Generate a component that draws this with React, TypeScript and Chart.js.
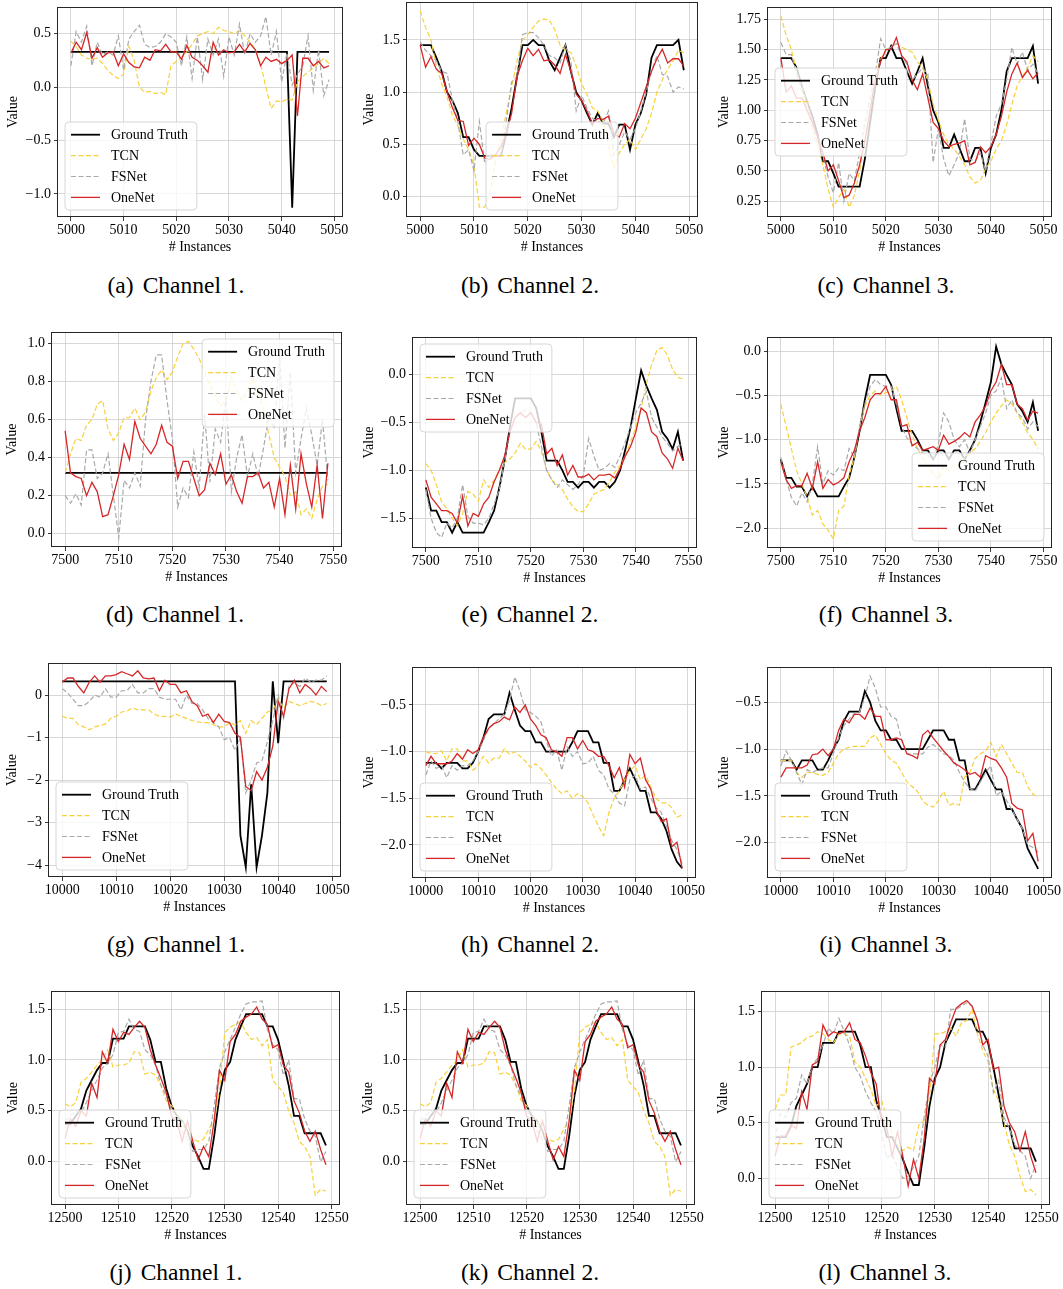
import React, { useEffect, useRef } from "react";
import { Chart, registerables } from "chart.js";

Chart.register(...registerables);

const FONT = "'Liberation Serif', 'Times New Roman', Times, serif";
Chart.defaults.font.family = FONT;
Chart.defaults.font.size = 14;
Chart.defaults.color = "#000";

// ---------------- data ----------------
const seriesNames = ["Ground Truth", "TCN", "FSNet", "OneNet"];
const captionLabels = ["(a)", "(b)", "(c)", "(d)", "(e)", "(f)", "(g)", "(h)", "(i)", "(j)", "(k)", "(l)"];
const channelNames = ["Channel 1.", "Channel 2.", "Channel 3."];

const START1 = 5000;
const START2 = 7500;
const START3 = 10000;
const START4 = 12500;

const xTicks1 = [5000, 5010, 5020, 5030, 5040, 5050];
const xTicks2 = [7500, 7510, 7520, 7530, 7540, 7550];
const xTicks3 = [10000, 10010, 10020, 10030, 10040, 10050];
const xTicks4 = [12500, 12510, 12520, 12530, 12540, 12550];

const yTicksA = [-1.0, -0.5, 0.0, 0.5];
const yTicksB = [0.0, 0.5, 1.0, 1.5];
const yTicksC = [0.25, 0.5, 0.75, 1.0, 1.25, 1.5, 1.75];
const yTicksD = [0.0, 0.2, 0.4, 0.6, 0.8, 1.0];
const yTicksE = [-1.5, -1.0, -0.5, 0.0];
const yTicksF = [-2.0, -1.5, -1.0, -0.5, 0.0];
const yTicksG = [-4, -3, -2, -1, 0];
const yTicksH = [-2.0, -1.5, -1.0, -0.5];
const yTicksI = [-2.0, -1.5, -1.0, -0.5];
const yTicksJ = [0.0, 0.5, 1.0, 1.5];
const yTicksL = [0.0, 0.5, 1.0, 1.5];

// (a)
const gtA = [
  0.33, 0.33, 0.33, 0.33, 0.33, 0.33, 0.33, 0.33, 0.33, 0.33,
  0.33, 0.33, 0.33, 0.33, 0.33, 0.33, 0.33, 0.33, 0.33, 0.33,
  0.33, 0.33, 0.33, 0.33, 0.33, 0.33, 0.33, 0.33, 0.33, 0.33,
  0.33, 0.33, 0.33, 0.33, 0.33, 0.33, 0.33, 0.33, 0.33, 0.33,
  0.33, 0.33, -1.13, 0.33, 0.33, 0.33, 0.33, 0.33, 0.33, 0.33,
];
const tcnA = [
  0.43, 0.38, 0.30, 0.27, 0.26, 0.27, 0.22, 0.16, 0.11, 0.08,
  0.12, 0.38, 0.25, 0.00, -0.05, -0.04, -0.06, -0.05, -0.07, 0.20,
  0.24, 0.28, 0.33, 0.40, 0.48, 0.50, 0.52, 0.50, 0.56, 0.53,
  0.52, 0.50, 0.53, 0.48, 0.42, 0.35, 0.22, 0.00, -0.20, -0.13,
  -0.14, -0.11, -0.12, 0.05, 0.10, 0.14, 0.18, 0.22, 0.27, 0.22,
];
const fsA = [
  0.20, 0.52, 0.42, 0.57, 0.20, 0.42, 0.30, 0.33, 0.30, 0.48,
  0.16, 0.45, 0.52, 0.58, 0.40, 0.37, 0.38, 0.42, 0.50, 0.47,
  0.42, 0.20, 0.47, 0.08, 0.47, 0.07, 0.45, 0.30, 0.45, 0.10,
  0.47, 0.30, 0.59, 0.30, 0.50, 0.42, 0.48, 0.66, 0.30, 0.52,
  0.05, 0.32, 0.02, 0.12, 0.20, 0.48, -0.03, 0.35, -0.08, 0.07,
];
const oneA = [
  0.32, 0.42, 0.35, 0.51, 0.27, 0.37, 0.28, 0.32, 0.33, 0.20,
  0.31, 0.23, 0.19, 0.18, 0.28, 0.25, 0.35, 0.34, 0.40, 0.33,
  0.33, 0.26, 0.39, 0.28, 0.25, 0.20, 0.14, 0.42, 0.30, 0.35,
  0.32, 0.33, 0.40, 0.33, 0.41, 0.35, 0.20, 0.28, 0.24, 0.26,
  0.22, 0.25, 0.30, -0.27, 0.27, 0.27, 0.20, 0.24, 0.18, 0.20,
];

// (b)
const gtB = [
  1.45, 1.45, 1.45, 1.33, 1.20, 1.00, 0.92, 0.80, 0.57, 0.57,
  0.45, 0.39, 0.39, 0.39, 0.39, 0.39, 0.60, 0.85, 1.15, 1.45,
  1.45, 1.50, 1.45, 1.45, 1.30, 1.21, 1.33, 1.45, 1.20, 1.00,
  0.92, 0.80, 0.69, 0.80, 0.70, 0.70, 0.57, 0.69, 0.69, 0.45,
  0.69, 0.80, 0.98, 1.33, 1.45, 1.45, 1.45, 1.45, 1.50, 1.21,
];
const tcnB = [
  1.78, 1.62, 1.50, 1.25, 1.08, 0.95, 0.78, 0.68, 0.55, 0.45,
  0.30, -0.10, -0.10, 0.05, 0.35, 0.55, 0.80, 1.05, 1.30, 1.50,
  1.55, 1.62, 1.68, 1.70, 1.69, 1.60, 1.45, 1.40, 1.38, 1.25,
  1.08, 0.98, 0.85, 0.82, 0.72, 0.50, 0.27, 0.42, 0.50, 0.55,
  0.45, 0.55, 0.65, 0.80, 1.00, 1.12, 1.22, 1.30, 1.40, 1.38,
];
const fsB = [
  1.48, 1.40, 1.35, 1.30, 1.20, 1.18, 0.92, 0.72, 0.40, 0.45,
  0.25, 0.72, 0.32, 0.40, 0.40, 0.40, 0.72, 1.10, 1.15, 1.55,
  1.57, 1.57, 1.52, 1.45, 1.35, 1.33, 1.28, 1.45, 1.30, 0.82,
  0.97, 0.85, 0.75, 0.72, 0.70, 0.82, 0.40, 0.50, 0.62, 0.55,
  0.65, 0.82, 1.00, 1.20, 1.35, 1.17, 1.15, 1.00, 1.05, 1.03,
];
const oneB = [
  1.45, 1.24, 1.34, 1.22, 1.18, 1.00, 0.85, 0.73, 0.72, 0.49,
  0.56, 0.50, 0.37, 0.36, 0.40, 0.48, 0.60, 0.80, 1.15, 1.30,
  1.42, 1.35, 1.41, 1.30, 1.31, 1.26, 1.18, 1.36, 1.20, 0.98,
  0.92, 0.82, 0.70, 0.75, 0.74, 0.77, 0.60, 0.57, 0.70, 0.65,
  0.75, 0.90, 1.05, 1.20, 1.32, 1.41, 1.28, 1.32, 1.32, 1.25,
];

// (c)
const gtC = [
  1.43, 1.43, 1.43, 1.35, 1.20, 1.07, 0.95, 0.80, 0.58, 0.58,
  0.48, 0.37, 0.37, 0.37, 0.37, 0.37, 0.60, 0.90, 1.20, 1.43,
  1.43, 1.53, 1.43, 1.43, 1.32, 1.22, 1.32, 1.43, 1.20, 1.00,
  0.90, 0.69, 0.69, 0.80, 0.69, 0.58, 0.58, 0.69, 0.69, 0.48,
  0.69, 0.80, 1.00, 1.32, 1.43, 1.43, 1.43, 1.43, 1.53, 1.22,
];
const tcnC = [
  1.78, 1.62, 1.50, 1.32, 1.15, 1.00, 0.85, 0.70, 0.55, 0.35,
  0.20, 0.28, 0.35, 0.20, 0.30, 0.50, 0.75, 1.00, 1.25, 1.42,
  1.50, 1.52, 1.55, 1.52, 1.50, 1.48, 1.40, 1.35, 1.25, 1.05,
  0.92, 0.80, 0.72, 0.68, 0.62, 0.55, 0.45, 0.40, 0.42, 0.52,
  0.58, 0.68, 0.75, 0.88, 1.05, 1.20, 1.28, 1.35, 1.45, 1.40,
];
const fsC = [
  1.56, 1.46, 1.46, 1.30, 1.20, 1.05, 0.92, 0.75, 0.62, 0.45,
  0.32, 0.57, 0.25, 0.48, 0.42, 0.65, 0.90, 1.10, 1.30, 1.59,
  1.50, 1.52, 1.55, 1.45, 1.38, 1.25, 1.30, 1.35, 1.30, 0.57,
  0.85, 0.60, 0.46, 0.55, 0.65, 0.93, 0.60, 0.58, 0.65, 0.50,
  0.72, 0.95, 1.05, 1.25, 1.52, 1.38, 1.48, 1.33, 1.38, 1.30,
];
const oneC = [
  1.43, 1.15, 1.20, 1.10, 1.10, 1.00, 0.90, 0.78, 0.65, 0.50,
  0.55, 0.42, 0.28, 0.30, 0.40, 0.55, 0.75, 1.00, 1.25, 1.40,
  1.50, 1.50, 1.60, 1.45, 1.40, 1.25, 1.17, 1.30, 1.10, 0.90,
  0.85, 0.75, 0.70, 0.72, 0.73, 0.75, 0.55, 0.57, 0.70, 0.65,
  0.70, 0.80, 0.95, 1.15, 1.30, 1.39, 1.27, 1.33, 1.26, 1.31,
];

// (d)
const gtD = [
  0.32, 0.32, 0.32, 0.32, 0.32, 0.32, 0.32, 0.32, 0.32, 0.32,
  0.32, 0.32, 0.32, 0.32, 0.32, 0.32, 0.32, 0.32, 0.32, 0.32,
  0.32, 0.32, 0.32, 0.32, 0.32, 0.32, 0.32, 0.32, 0.32, 0.32,
  0.32, 0.32, 0.32, 0.32, 0.32, 0.32, 0.32, 0.32, 0.32, 0.32,
  0.32, 0.32, 0.32, 0.32, 0.32, 0.32, 0.32, 0.32, 0.32, 0.32,
];
const tcnD = [
  0.32, 0.42, 0.50, 0.49, 0.57, 0.60, 0.68, 0.70, 0.55, 0.49,
  0.53, 0.61, 0.61, 0.66, 0.60, 0.64, 0.75, 0.82, 0.86, 0.81,
  0.85, 0.93, 1.00, 1.01, 0.97, 0.92, 0.85, 0.78, 0.72, 0.67,
  0.70, 0.82, 0.75, 0.70, 0.75, 0.82, 0.75, 0.65, 0.52, 0.40,
  0.35, 0.30, 0.20, 0.22, 0.10, 0.13, 0.08, 0.18, 0.25, 0.26,
];
const fsD = [
  0.20, 0.16, 0.21, 0.15, 0.44, 0.44, 0.29, 0.32, 0.42, 0.20,
  -0.02, 0.28, 0.24, 0.32, 0.25, 0.60, 0.80, 0.94, 0.94, 0.70,
  0.50, 0.14, 0.24, 0.19, 0.43, 0.24, 0.63, 0.27, 0.55, 0.48,
  0.72, 0.22, 0.40, 0.52, 0.30, 0.42, 0.30, 0.45, 0.62, 0.55,
  0.93, 0.45, 0.85, 0.32, 0.50, 0.66, 0.52, 0.36, 0.60, 0.28,
];
const oneD = [
  0.54, 0.32, 0.30, 0.29, 0.20, 0.27, 0.22, 0.09, 0.10, 0.20,
  0.31, 0.47, 0.39, 0.59, 0.50, 0.46, 0.42, 0.47, 0.57, 0.48,
  0.46, 0.29, 0.38, 0.38, 0.29, 0.20, 0.23, 0.37, 0.31, 0.42,
  0.26, 0.31, 0.22, 0.16, 0.30, 0.30, 0.32, 0.24, 0.27, 0.14,
  0.29, 0.10, 0.36, 0.13, 0.42, 0.26, 0.14, 0.36, 0.08, 0.37,
];

// (e)
const gtE = [
  -1.18, -1.42, -1.42, -1.54, -1.54, -1.65, -1.54, -1.65, -1.65, -1.65,
  -1.65, -1.65, -1.54, -1.42, -1.18, -0.90, -0.55, -0.25, -0.25, -0.25,
  -0.25, -0.35, -0.60, -0.90, -0.90, -0.90, -1.00, -1.12, -1.12, -1.18,
  -1.12, -1.12, -1.18, -1.12, -1.12, -1.18, -1.12, -1.00, -0.78, -0.55,
  -0.25, 0.04, -0.12, -0.25, -0.37, -0.60, -0.67, -0.78, -0.60, -0.90,
];
const tcnE = [
  -0.93, -1.00, -1.15, -1.33, -1.40, -1.50, -1.58, -1.45, -1.22, -1.25,
  -1.32, -1.10, -1.18, -1.10, -1.00, -0.92, -0.88, -0.82, -0.72, -0.78,
  -0.78, -0.70, -0.80, -1.00, -1.10, -1.15, -1.20, -1.30, -1.38, -1.43,
  -1.43, -1.35, -1.25, -1.22, -1.20, -1.12, -1.02, -0.95, -0.85, -0.70,
  -0.55, -0.35, -0.10, 0.10, 0.25, 0.28, 0.20, 0.05, -0.03, -0.05,
];
const fsE = [
  -1.20, -1.50, -1.65, -1.70, -1.55, -1.60, -1.50, -1.15, -1.48, -1.55,
  -1.55, -1.57, -1.50, -1.35, -1.20, -0.90, -0.60, -0.45, -0.40, -0.37,
  -0.40, -0.50, -0.75, -1.00, -1.10, -1.18, -1.10, -1.15, -1.20, -1.15,
  -1.05, -0.67, -0.85, -1.00, -0.98, -0.93, -0.97, -0.85, -0.70, -0.55,
  -0.40, -0.30, -0.18, -0.45, -0.55, -0.65, -0.72, -0.80, -0.75, -0.72,
];
const oneE = [
  -1.10, -1.28, -1.35, -1.42, -1.42, -1.45, -1.55, -1.27, -1.58, -1.45,
  -1.48, -1.35, -1.28, -1.12, -1.00, -0.85, -0.60, -0.45, -0.40, -0.45,
  -0.40, -0.50, -0.52, -0.83, -0.77, -0.95, -0.84, -1.05, -0.95, -1.07,
  -1.07, -1.04, -1.10, -1.05, -1.05, -1.04, -1.08, -0.98, -0.85, -0.75,
  -0.60, -0.35, -0.40, -0.60, -0.65, -0.82, -0.88, -0.98, -0.77, -0.90,
];

// (f)
const gtF = [
  -1.22, -1.43, -1.43, -1.53, -1.53, -1.64, -1.53, -1.64, -1.64, -1.64,
  -1.64, -1.64, -1.53, -1.43, -1.20, -0.90, -0.55, -0.27, -0.27, -0.27,
  -0.27, -0.38, -0.65, -0.90, -0.90, -0.90, -1.00, -1.12, -1.12, -1.22,
  -1.12, -1.12, -1.22, -1.12, -1.12, -1.22, -1.12, -1.00, -0.80, -0.58,
  -0.35, 0.05, -0.15, -0.27, -0.38, -0.60, -0.68, -0.80, -0.58, -0.90,
];
const tcnF = [
  -0.60, -0.85, -1.10, -1.35, -1.50, -1.65, -1.85, -1.80, -1.95, -2.02,
  -2.12, -1.80, -1.75, -1.40, -1.20, -0.85, -0.62, -0.50, -0.45, -0.50,
  -0.47, -0.45, -0.40, -0.55, -0.75, -0.95, -1.10, -1.20, -1.30, -1.38,
  -1.45, -1.30, -1.35, -1.28, -1.30, -1.20, -1.15, -1.10, -1.02, -0.92,
  -0.80, -0.70, -0.62, -0.55, -0.60, -0.70, -0.80, -0.92, -1.00, -1.10,
];
const fsF = [
  -1.20, -1.45, -1.65, -1.75, -1.60, -1.70, -1.50, -1.08, -1.50, -1.35,
  -1.40, -1.32, -1.35, -1.10, -1.20, -0.85, -0.60, -0.40, -0.32, -0.38,
  -0.40, -0.40, -0.60, -0.85, -0.98, -1.05, -1.10, -1.15, -1.18, -1.22,
  -1.05, -0.70, -0.80, -1.00, -1.08, -1.00, -1.15, -1.00, -0.85, -0.70,
  -0.50, -0.45, -0.30, -0.65, -0.55, -0.70, -0.75, -0.88, -0.80, -0.85,
];
const oneF = [
  -1.25, -1.45, -1.55, -1.52, -1.52, -1.38, -1.55, -1.25, -1.55, -1.45,
  -1.51, -1.48, -1.43, -1.25, -1.12, -0.90, -0.75, -0.55, -0.48, -0.48,
  -0.40, -0.55, -0.55, -0.85, -0.83, -1.07, -1.03, -1.12, -1.10, -1.08,
  -1.12, -0.95, -1.05, -1.02, -0.98, -0.92, -0.97, -0.80, -0.72, -0.62,
  -0.45, -0.35, -0.15, -0.38, -0.38, -0.60, -0.65, -0.78, -0.68, -0.70,
];

// (g)
const gtG = [
  0.32, 0.32, 0.32, 0.32, 0.32, 0.32, 0.32, 0.32, 0.32, 0.32,
  0.32, 0.32, 0.32, 0.32, 0.32, 0.32, 0.32, 0.32, 0.32, 0.32,
  0.32, 0.32, 0.32, 0.32, 0.32, 0.32, 0.32, 0.32, 0.32, 0.32,
  0.32, 0.32, 0.32, -3.30, -4.05, -2.10, -4.05, -3.30, -2.30, 0.32,
  -1.13, 0.32, 0.32, 0.32, 0.32, 0.32, 0.32, 0.32, 0.32, 0.32,
];
const tcnG = [
  -0.50, -0.55, -0.55, -0.70, -0.75, -0.82, -0.75, -0.72, -0.68, -0.55,
  -0.50, -0.40, -0.38, -0.30, -0.35, -0.35, -0.35, -0.45, -0.50, -0.50,
  -0.52, -0.45, -0.50, -0.55, -0.60, -0.63, -0.65, -0.65, -0.70, -0.75,
  -0.75, -0.65, -0.70, -0.60, -0.90, -0.60, -0.70, -0.55, -0.40, -0.35,
  -0.10, -0.30, -0.15, -0.20, -0.25, -0.20, -0.15, -0.18, -0.25, -0.20,
];
const fsG = [
  0.15, 0.05, -0.10, -0.25, -0.25, -0.15, 0.00, -0.05, 0.15, -0.05,
  -0.05, 0.10, 0.10, 0.25, 0.05, 0.05, 0.15, 0.15, -0.05, -0.10,
  -0.10, -0.10, -0.35, 0.00, -0.20, -0.20, -0.35, -0.55, -0.65, -0.75,
  -1.05, -1.00, -1.30, -1.00, -2.30, -2.00, -1.60, -1.55, -1.10, -0.60,
  0.00, -0.55, 0.20, 0.30, 0.20, 0.40, 0.30, 0.35, 0.35, 0.45,
];
const oneG = [
  0.30, 0.40, 0.40, 0.20, 0.05, 0.30, 0.45, 0.30, 0.45, 0.45,
  0.48, 0.55, 0.50, 0.45, 0.57, 0.40, 0.38, 0.40, 0.10, 0.35,
  0.25, 0.25, 0.05, 0.10, -0.15, -0.25, -0.50, -0.45, -0.65, -0.45,
  -0.62, -0.65, -0.90, -1.00, -2.15, -2.25, -1.80, -2.00, -1.70, -1.20,
  -0.15, -0.50, 0.15, 0.35, 0.05, 0.25, 0.15, 0.00, 0.20, 0.08,
];

// (h)
const gtH = [
  -1.12, -1.12, -1.12, -1.18, -1.12, -1.12, -1.12, -1.18, -1.18, -1.12,
  -1.00, -0.85, -0.65, -0.60, -0.60, -0.60, -0.37, -0.55, -0.72, -0.78,
  -0.78, -0.90, -0.90, -1.00, -1.00, -1.00, -1.00, -1.00, -0.90, -0.78,
  -0.78, -0.78, -0.90, -0.90, -1.12, -1.12, -1.42, -1.42, -1.30, -1.18,
  -1.30, -1.42, -1.42, -1.65, -1.65, -1.72, -1.85, -2.05, -2.18, -2.25,
];
const tcnH = [
  -1.00, -1.02, -1.02, -0.99, -1.10, -0.97, -0.97, -1.10, -1.10, -1.20,
  -1.15, -1.05, -1.12, -1.07, -1.07, -0.97, -1.03, -1.00, -1.05, -1.10,
  -1.17, -1.13, -1.18, -1.25, -1.33, -1.40, -1.45, -1.42, -1.50, -1.45,
  -1.48, -1.55, -1.68, -1.80, -1.90, -1.65, -1.50, -1.42, -1.30, -1.20,
  -1.15, -1.30, -1.25, -1.38, -1.50, -1.55, -1.55, -1.60, -1.70, -1.68,
];
const fsH = [
  -1.25, -1.10, -1.18, -1.15, -1.28, -1.15, -1.20, -1.15, -1.15, -1.10,
  -1.00, -0.88, -0.75, -0.70, -0.65, -0.60, -0.45, -0.20, -0.35, -0.55,
  -0.58, -0.62, -0.68, -0.88, -1.05, -0.98, -1.20, -0.95, -1.05, -1.00,
  -1.13, -1.12, -1.05, -1.20, -1.25, -1.40, -1.45, -1.55, -1.58, -1.30,
  -1.25, -1.40, -1.38, -1.50, -1.60, -1.65, -1.80, -1.95, -2.05, -2.20,
];
const oneH = [
  -1.15, -1.05, -1.13, -1.13, -1.13, -1.10, -1.02, -1.08, -0.98, -1.02,
  -0.98, -0.85, -0.75, -0.70, -0.68, -0.63, -0.66, -0.52, -0.58, -0.50,
  -0.65, -0.72, -0.82, -0.85, -0.98, -1.00, -1.05, -0.85, -0.85, -0.97,
  -0.88, -0.98, -1.00, -1.05, -1.05, -1.15, -1.28, -1.17, -1.38, -1.03,
  -1.13, -1.07, -1.30, -1.40, -1.62, -1.75, -1.72, -2.02, -1.97, -2.25,
];

// (i)
const gtI = [
  -1.12, -1.12, -1.12, -1.22, -1.12, -1.12, -1.12, -1.22, -1.22, -1.12,
  -1.00, -0.90, -0.70, -0.60, -0.60, -0.60, -0.38, -0.50, -0.70, -0.80,
  -0.80, -0.90, -0.90, -1.00, -1.00, -1.00, -1.00, -1.00, -0.90, -0.80,
  -0.80, -0.80, -0.90, -0.90, -1.12, -1.12, -1.43, -1.43, -1.33, -1.22,
  -1.33, -1.43, -1.43, -1.64, -1.64, -1.75, -1.85, -2.06, -2.17, -2.28,
];
const tcnI = [
  -1.12, -1.12, -1.12, -1.25, -1.30, -1.25, -1.25, -1.27, -1.28, -1.25,
  -1.15, -1.05, -1.00, -0.98, -0.97, -0.97, -0.97, -0.88, -0.85, -0.95,
  -1.05, -1.12, -1.15, -1.25, -1.35, -1.40, -1.45, -1.55, -1.60, -1.62,
  -1.55, -1.45, -1.60, -1.58, -1.60, -1.30, -1.25, -1.10, -1.05, -1.02,
  -0.93, -1.08, -0.95, -1.05, -1.15, -1.25, -1.25, -1.40, -1.48, -1.52,
];
const fsI = [
  -1.18, -1.02, -1.12, -1.25, -1.38, -1.22, -1.25, -1.22, -1.20, -1.20,
  -1.05, -0.88, -0.75, -0.68, -0.62, -0.60, -0.45, -0.22, -0.35, -0.55,
  -0.55, -0.65, -0.68, -0.90, -1.05, -1.05, -1.05, -1.05, -0.98, -0.95,
  -1.00, -1.05, -1.07, -1.12, -1.25, -1.35, -1.42, -1.45, -1.35, -1.25,
  -1.18, -1.50, -1.45, -1.55, -1.65, -1.75, -1.85, -2.02, -2.05, -2.10,
];
const oneI = [
  -1.30, -1.20, -1.20, -1.20, -1.20, -1.17, -1.06, -1.05, -1.00, -1.07,
  -1.00, -0.80, -0.68, -0.72, -0.63, -0.63, -0.68, -0.56, -0.65, -0.65,
  -0.90, -0.90, -0.88, -0.90, -1.05, -1.07, -1.10, -0.85, -0.80, -0.88,
  -0.95, -1.02, -1.08, -1.15, -1.18, -1.22, -1.27, -1.25, -1.30, -1.07,
  -1.10, -1.12, -1.20, -1.30, -1.58, -1.63, -1.65, -1.98, -1.90, -2.20,
];

// (j) and (k) show the same series
const gtJ = [
  0.37, 0.37, 0.45, 0.52, 0.70, 0.80, 0.90, 0.97, 0.97, 1.21,
  1.21, 1.21, 1.33, 1.33, 1.33, 1.33, 1.20, 0.98, 0.98, 0.72,
  0.55, 0.45, 0.40, 0.30, 0.15, 0.05, -0.07, -0.07, 0.25, 0.65,
  0.90, 0.98, 1.20, 1.33, 1.45, 1.45, 1.45, 1.45, 1.33, 1.33,
  1.20, 0.98, 0.75, 0.45, 0.45, 0.28, 0.28, 0.28, 0.28, 0.16,
];
const tcnJ = [
  0.57, 0.54, 0.58, 0.78, 0.82, 0.88, 0.95, 1.00, 1.10, 0.93,
  0.95, 0.95, 0.97, 1.08, 1.07, 0.86, 0.88, 0.85, 0.75, 0.60,
  0.55, 0.48, 0.40, 0.28, 0.22, 0.20, 0.22, 0.32, 0.40, 0.70,
  1.27, 1.32, 1.35, 1.37, 1.27, 1.20, 1.22, 1.14, 1.20, 0.80,
  0.74, 0.68, 0.50, 0.38, 0.20, 0.15, 0.05, -0.33, -0.27, -0.29,
];
const fsJ = [
  0.40, 0.45, 0.50, 0.48, 0.58, 0.70, 0.80, 0.92, 0.97, 1.05,
  1.27, 1.28, 1.40, 1.30, 1.28, 1.10, 1.05, 0.95, 0.75, 0.65,
  0.50, 0.45, 0.30, 0.22, 0.10, 0.12, 0.12, 0.20, 0.55, 0.92,
  1.08, 1.20, 1.32, 1.45, 1.55, 1.57, 1.57, 1.58, 1.30, 1.15,
  1.10, 0.85, 1.00, 0.62, 0.62, 0.42, 0.30, 0.25, 0.00, 0.10,
];
const oneJ = [
  0.23, 0.42, 0.35, 0.50, 0.45, 0.77, 0.63, 1.08, 0.97, 1.30,
  1.18, 1.27, 1.25, 1.32, 1.38, 1.32, 1.10, 0.95, 0.82, 0.68,
  0.45, 0.40, 0.20, 0.40, 0.20, 0.02, 0.15, 0.05, 0.40, 0.90,
  0.80, 1.18, 1.25, 1.38, 1.42, 1.45, 1.52, 1.40, 1.35, 1.12,
  1.15, 0.95, 0.88, 0.60, 0.48, 0.30, 0.20, 0.30, 0.12, -0.03,
];

// (l)
const gtL = [
  0.37, 0.37, 0.37, 0.47, 0.65, 0.75, 0.85, 1.00, 1.00, 1.22,
  1.22, 1.22, 1.32, 1.32, 1.32, 1.32, 1.20, 1.00, 1.00, 0.70,
  0.55, 0.37, 0.37, 0.27, 0.17, 0.05, -0.06, -0.06, 0.27, 0.65,
  0.90, 1.00, 1.22, 1.32, 1.43, 1.43, 1.43, 1.43, 1.32, 1.32,
  1.22, 1.00, 0.75, 0.47, 0.47, 0.27, 0.27, 0.27, 0.27, 0.15,
];
const tcnL = [
  0.62, 0.75, 0.75, 1.18, 1.20, 1.22, 1.27, 1.28, 1.32, 1.30,
  1.25, 1.22, 1.30, 1.30, 1.28, 1.05, 1.00, 0.90, 0.80, 0.65,
  0.70, 0.55, 0.40, 0.30, 0.25, 0.28, 0.25, 0.48, 0.52, 0.72,
  1.30, 1.30, 1.32, 1.35, 1.28, 1.40, 1.42, 1.52, 1.30, 1.15,
  1.05, 0.80, 0.70, 0.50, 0.30, 0.20, 0.02, -0.12, -0.10, -0.15,
];
const fsL = [
  0.35, 0.58, 0.55, 0.68, 0.72, 0.93, 0.85, 1.02, 1.08, 1.20,
  1.35, 1.30, 1.44, 1.32, 1.20, 1.00, 0.92, 0.78, 0.68, 0.60,
  0.42, 0.18, 0.22, 0.10, 0.00, 0.02, 0.10, 0.20, 0.55, 0.85,
  1.00, 1.20, 1.18, 1.52, 1.52, 1.55, 1.58, 1.55, 1.42, 1.20,
  1.10, 0.77, 0.88, 0.55, 0.45, 0.30, 0.25, 0.20, 0.00, 0.12,
];
const oneL = [
  0.20, 0.38, 0.38, 0.48, 0.45, 0.78, 0.62, 1.02, 1.05, 1.38,
  1.28, 1.32, 1.30, 1.32, 1.40, 1.25, 1.22, 1.10, 0.95, 0.85,
  0.50, 0.45, 0.20, 0.42, 0.20, -0.07, 0.17, 0.00, 0.35, 0.90,
  0.85, 1.20, 1.25, 1.40, 1.53, 1.57, 1.60, 1.55, 1.42, 1.20,
  1.25, 0.98, 1.00, 0.65, 0.50, 0.42, 0.25, 0.42, 0.20, 0.05,
];

// ---------------- styles / layout ----------------
const COLORS = ["#000000", "#f7d13c", "#a9a9a9", "#d62728"];
const WIDTHS = [1.8, 1.2, 1.2, 1.3];
const DASHES: number[][] = [[], [5, 2.5], [5, 2.5], []];

type Cfg = {
  idx: number;
  start: number;
  xTicks: number[];
  series: number[][];
  yMin: number;
  yMax: number;
  yTicks: number[];
  yDec: number;
  box: [number, number, number, number];
  legend: string;
  titleX: number;
  cap: [number, number];
};

const panels: Cfg[] = [
  { idx: 0, start: START1, xTicks: xTicks1, series: [gtA, tcnA, fsA, oneA], yMin: -1.216, yMax: 0.75, yTicks: yTicksA, yDec: 1, box: [58, 7, 342, 217], legend: "lower left", titleX: 14, cap: [176, 286] },
  { idx: 1, start: START1, xTicks: xTicks1, series: [gtB, tcnB, fsB, oneB], yMin: -0.194, yMax: 1.863, yTicks: yTicksB, yDec: 1, box: [407, 2, 697, 217], legend: "lower center", titleX: 370, cap: [530, 286] },
  { idx: 2, start: START1, xTicks: xTicks1, series: [gtC, tcnC, fsC, oneC], yMin: 0.12, yMax: 1.852, yTicks: yTicksC, yDec: 2, box: [768, 7, 1051, 217], legend: "center left", titleX: 725, cap: [886, 286] },
  { idx: 3, start: START2, xTicks: xTicks2, series: [gtD, tcnD, fsD, oneD], yMin: -0.07, yMax: 1.06, yTicks: yTicksD, yDec: 1, box: [52, 332, 341, 547], legend: "upper right", titleX: 13, cap: [175, 615] },
  { idx: 4, start: START2, xTicks: xTicks2, series: [gtE, tcnE, fsE, oneE], yMin: -1.81, yMax: 0.389, yTicks: yTicksE, yDec: 1, box: [413, 337, 696, 548], legend: "upper left", titleX: 370, cap: [530, 615] },
  { idx: 5, start: START2, xTicks: xTicks2, series: [gtF, tcnF, fsF, oneF], yMin: -2.222, yMax: 0.158, yTicks: yTicksF, yDec: 1, box: [768, 337, 1051, 548], legend: "lower right", titleX: 725, cap: [886, 615] },
  { idx: 6, start: START3, xTicks: xTicks3, series: [gtG, tcnG, fsG, oneG], yMin: -4.28, yMax: 0.753, yTicks: yTicksG, yDec: 0, box: [49, 663, 340, 877], legend: "lower left", titleX: 13, cap: [176, 945] },
  { idx: 7, start: START3, xTicks: xTicks3, series: [gtH, tcnH, fsH, oneH], yMin: -2.354, yMax: -0.093, yTicks: yTicksH, yDec: 1, box: [413, 667, 695, 878], legend: "lower left", titleX: 370, cap: [530, 945] },
  { idx: 8, start: START3, xTicks: xTicks3, series: [gtI, tcnI, fsI, oneI], yMin: -2.377, yMax: -0.123, yTicks: yTicksI, yDec: 1, box: [768, 667, 1051, 878], legend: "lower left", titleX: 725, cap: [886, 945] },
  { idx: 9, start: START4, xTicks: xTicks4, series: [gtJ, tcnJ, fsJ, oneJ], yMin: -0.425, yMax: 1.677, yTicks: yTicksJ, yDec: 1, box: [52, 991, 339, 1205], legend: "lower left", titleX: 14, cap: [176, 1273] },
  { idx: 10, start: START4, xTicks: xTicks4, series: [gtJ, tcnJ, fsJ, oneJ], yMin: -0.425, yMax: 1.677, yTicks: yTicksJ, yDec: 1, box: [407, 991, 694, 1205], legend: "lower left", titleX: 369, cap: [530, 1273] },
  { idx: 11, start: START4, xTicks: xTicks4, series: [gtL, tcnL, fsL, oneL], yMin: -0.24, yMax: 1.686, yTicks: yTicksL, yDec: 1, box: [762, 991, 1049, 1205], legend: "lower left", titleX: 724, cap: [885, 1273] },
];

const TOP_PAD = 14;
const RIGHT_PAD = 16;
const X_AXIS_H = 39;

function fmtY(v: number, dec: number): string {
  const s = Math.abs(v).toFixed(dec);
  return v < -1e-9 ? "\u2212" + s : s;
}

function Panel({ cfg }: { cfg: Cfg }) {
  const ref = useRef<HTMLCanvasElement | null>(null);
  const [l, t, r, b] = cfg.box;
  const canvasLeft = cfg.titleX - 9;
  const canvasTop = t - TOP_PAD;
  const W = r + RIGHT_PAD - canvasLeft;
  const H = b + X_AXIS_H - canvasTop;
  const yAxisW = l - canvasLeft;

  useEffect(() => {
    const canvas = ref.current;
    if (!canvas) return;
    const datasets = cfg.series.map((arr, k) => ({
      label: seriesNames[k],
      data: arr.map((y, i) => ({ x: cfg.start + i, y })),
      borderColor: COLORS[k],
      backgroundColor: COLORS[k],
      borderWidth: WIDTHS[k],
      borderDash: DASHES[k],
      pointRadius: 0,
      tension: 0,
      fill: false,
      order: 3 - k,
    }));

    const frameLegend = {
      id: "frameLegend",
      afterDatasetsDraw(chart: any) {
        const ctx = chart.ctx as CanvasRenderingContext2D;
        const a = chart.chartArea;
        ctx.save();
        ctx.strokeStyle = "#262626";
        ctx.lineWidth = 1;
        ctx.setLineDash([]);
        ctx.strokeRect(Math.round(a.left) - 0.5, Math.round(a.top) + 0.5, Math.round(a.right - a.left) + 1, Math.round(a.bottom - a.top) - 1);

        ctx.font = `14px ${FONT}`;
        let tw = 0;
        seriesNames.forEach((n) => { tw = Math.max(tw, ctx.measureText(n).width); });
        const w = 46 + tw + 9;
        const h = 88;
        const pad = 7;
        let x = a.left + pad;
        let y = a.bottom - pad - h;
        const loc = cfg.legend;
        if (loc.includes("right")) x = a.right - pad - w;
        if (loc.includes("center") && !loc.includes("left") && !loc.includes("right")) x = (a.left + a.right) / 2 - w / 2;
        if (loc.includes("upper")) y = a.top + pad;
        if (loc === "center left") y = (a.top + a.bottom) / 2 - h / 2;

        ctx.beginPath();
        const rr = 4;
        ctx.moveTo(x + rr, y);
        ctx.lineTo(x + w - rr, y);
        ctx.quadraticCurveTo(x + w, y, x + w, y + rr);
        ctx.lineTo(x + w, y + h - rr);
        ctx.quadraticCurveTo(x + w, y + h, x + w - rr, y + h);
        ctx.lineTo(x + rr, y + h);
        ctx.quadraticCurveTo(x, y + h, x, y + h - rr);
        ctx.lineTo(x, y + rr);
        ctx.quadraticCurveTo(x, y, x + rr, y);
        ctx.closePath();
        ctx.fillStyle = "rgba(255,255,255,0.8)";
        ctx.fill();
        ctx.strokeStyle = "#d6d6d6";
        ctx.lineWidth = 1;
        ctx.stroke();

        seriesNames.forEach((name, k) => {
          const yy = y + 12.7 + k * 20.9;
          ctx.beginPath();
          ctx.strokeStyle = COLORS[k];
          ctx.lineWidth = WIDTHS[k];
          ctx.setLineDash(DASHES[k]);
          ctx.moveTo(x + 6, yy);
          ctx.lineTo(x + 35, yy);
          ctx.stroke();
          ctx.setLineDash([]);
          ctx.fillStyle = "#000";
          ctx.textAlign = "left";
          ctx.textBaseline = "middle";
          ctx.fillText(name, x + 46, yy + 0.5);
        });
        ctx.restore();
      },
    };

    const gridColor = "#d3d3d3";
    const chart = new Chart(canvas, {
      type: "line",
      data: { datasets },
      options: {
        animation: false,
        responsive: false,
        maintainAspectRatio: false,
        devicePixelRatio: 1,
        layout: { padding: { left: 0, top: TOP_PAD, right: RIGHT_PAD, bottom: 0 } },
        plugins: { legend: { display: false }, tooltip: { enabled: false }, title: { display: false } },
        scales: {
          x: {
            type: "linear",
            min: cfg.start - 2.45,
            max: cfg.start + 51.45,
            afterBuildTicks: (s: any) => { s.ticks = cfg.xTicks.map((v) => ({ value: v })); },
            afterFit: (s: any) => { s.height = X_AXIS_H; },
            ticks: { autoSkip: false, maxRotation: 0, minRotation: 0, padding: 1, color: "#000", font: { size: 14, family: FONT }, callback: (v: any) => String(v) },
            grid: { color: gridColor, lineWidth: 0.9, tickLength: 4, tickColor: "#262626", tickWidth: 0.9, drawTicks: true },
            border: { display: false },
            title: { display: true, text: "# Instances", color: "#000", font: { size: 14, family: FONT }, padding: 0 },
          },
          y: {
            type: "linear",
            min: cfg.yMin,
            max: cfg.yMax,
            afterBuildTicks: (s: any) => { s.ticks = cfg.yTicks.map((v) => ({ value: v })); },
            afterFit: (s: any) => { s.width = yAxisW; },
            ticks: { autoSkip: false, padding: 3, color: "#000", font: { size: 14, family: FONT }, callback: (v: any) => fmtY(Number(v), cfg.yDec) },
            grid: { color: gridColor, lineWidth: 0.9, tickLength: 4, tickColor: "#262626", tickWidth: 0.9, drawTicks: true },
            border: { display: false },
            title: { display: true, text: "Value", color: "#000", font: { size: 14, family: FONT }, padding: 0 },
          },
        },
      },
      plugins: [frameLegend],
    } as any);
    return () => chart.destroy();
  }, []);

  return (
    <canvas
      ref={ref}
      width={W}
      height={H}
      style={{ position: "absolute", left: canvasLeft, top: canvasTop, width: W, height: H }}
    />
  );
}

export default function App() {
  return (
    <div style={{ position: "absolute", left: 0, top: 0, width: 1063, height: 1289, background: "#fff", overflow: "hidden" }}>
      {panels.map((p) => (
        <Panel key={p.idx} cfg={p} />
      ))}
      {panels.map((p) => (
        <div
          key={"cap" + p.idx}
          style={{
            position: "absolute",
            left: p.cap[0],
            top: p.cap[1],
            transform: "translate(-50%, -50%)",
            whiteSpace: "nowrap",
            fontFamily: FONT,
            fontSize: 23.5,
            lineHeight: 1,
            color: "#000",
          }}
        >
          <span>{captionLabels[p.idx]}</span>
          <span style={{ marginLeft: 9 }}>{channelNames[p.idx % 3]}</span>
        </div>
      ))}
    </div>
  );
}
